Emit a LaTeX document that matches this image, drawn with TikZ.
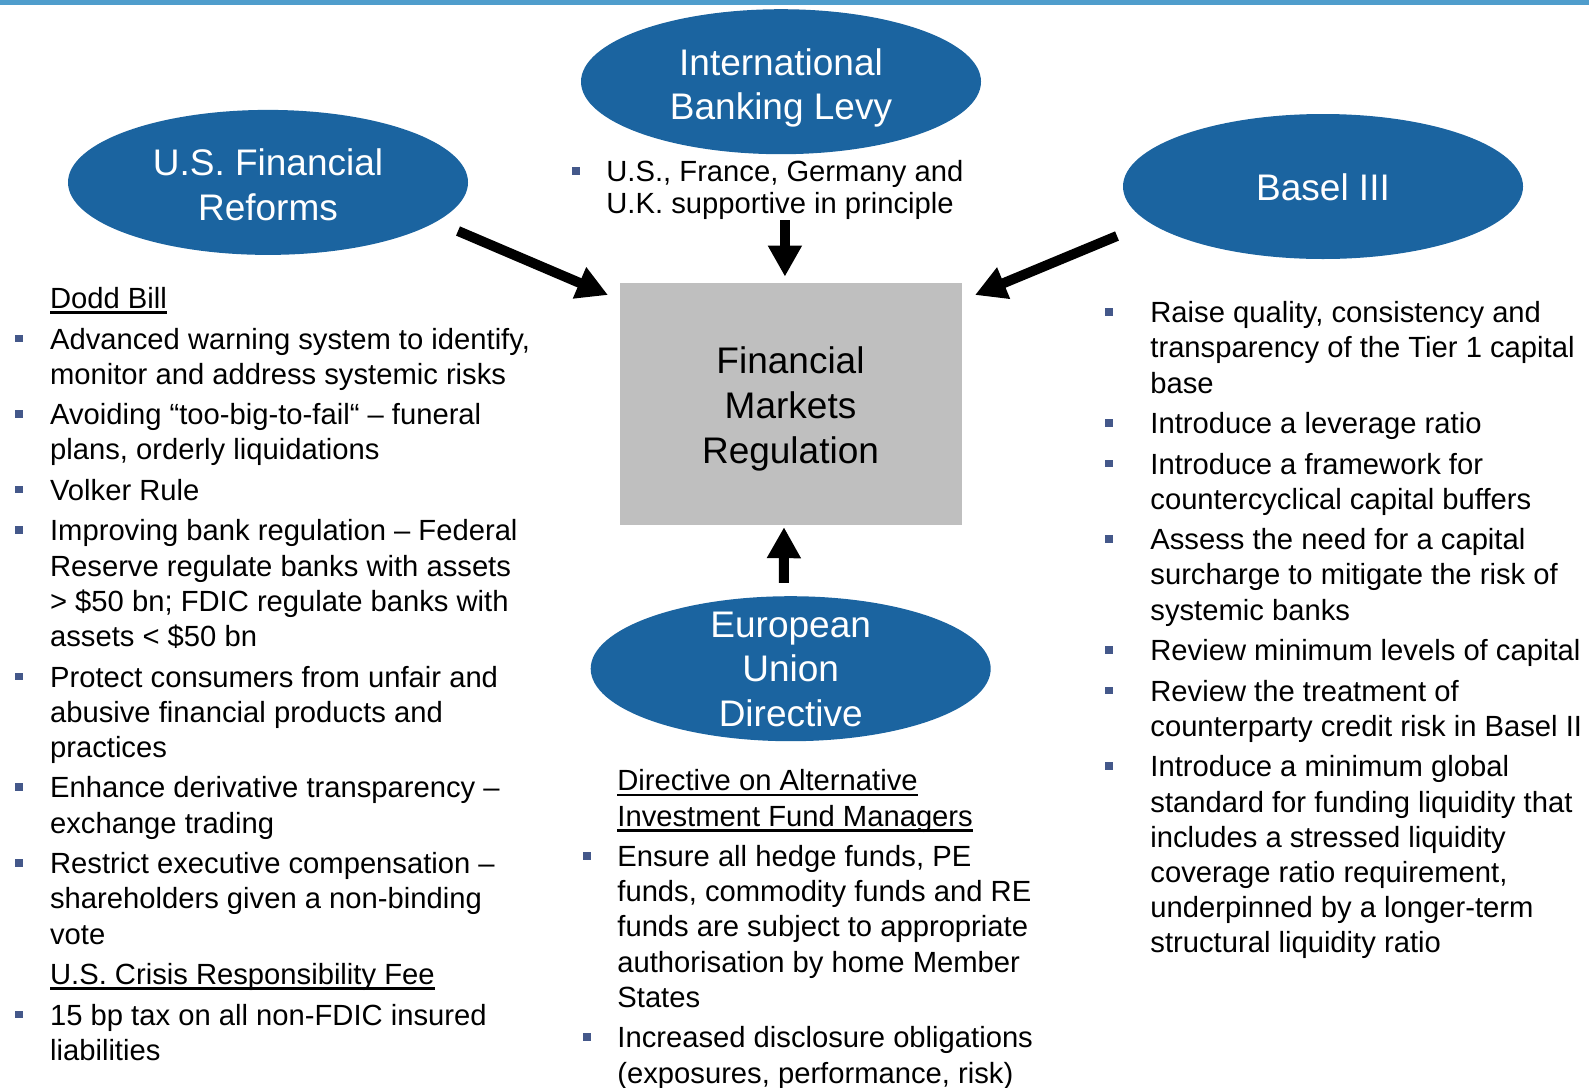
\documentclass[tikz,border=0pt]{standalone}
\usepackage{fontspec}
\setmainfont{Liberation Sans}
\usetikzlibrary{arrows.meta,shapes.geometric}
\definecolor{barc}{HTML}{4F9DCC}
\definecolor{blobc}{HTML}{1B64A0}
\definecolor{boxc}{HTML}{BFBFBF}
\definecolor{bulletc}{HTML}{44588A}
\newcommand{\undl}[1]{\setbox0\hbox{#1}\rlap{\rule[-2.8pt]{\wd0}{1.3pt}}\box0}
\newcommand{\bul}[2]{\fill[bulletc] (#1,#2-14) rectangle ++(7.5,7.5);}
\tikzset{
  blob/.style={ellipse, fill=blobc, inner sep=0pt, minimum width=200pt, minimum height=72.5pt},
  regbox/.style={rectangle, fill=boxc, inner sep=0pt, minimum width=171pt, minimum height=121pt},
  bigtxt/.style={anchor=north, yshift=15pt, inner sep=0pt, align=center, font=\fontsize{18.5}{22.3}\selectfont, execute at begin node=\rule{0pt}{15pt}},
  txt/.style={anchor=north west, yshift=12pt, inner sep=0pt, align=left, font=\fontsize{14.6}{17.6}\selectfont, execute at begin node=\rule{0pt}{12pt}},
  ml/.style={yshift=-1.5pt},
  bml/.style={yshift=-2pt},
  fat/.style={line width=5pt, -{Triangle[length=15.5pt,width=16pt]}},
}

\begin{document}
\begin{tikzpicture}[x=0.5pt,y=-0.5pt]
\useasboundingbox (0,0) rectangle (1589,1087);
\fill[barc] (0,0) rectangle (1589,5);

\node[blob] (ibl) at (781,81.7) {};
\node[blob] (usfr) at (268,182.4) {};
\node[blob] (basel) at (1323,186.5) {};
\node[blob] (eu) at (790.7,668.7) {};
\node[regbox] (box) at (791,404) {};
\node[bigtxt, bml, text=white] (iblt) at (781,74) {International\\Banking Levy};
\node[bigtxt, bml, text=white] (usfrt) at (268,174.4) {U.S. Financial\\Reforms};
\node[bigtxt, text=white] (baselt) at (1323,200) {Basel III};
\node[bigtxt, bml, text=white] (eut) at (790.7,637.5) {European\\Union\\Directive};
\node[bigtxt, bml] (boxt) at (790.5,372.7) {Financial\\Markets\\Regulation};

\bul{572}{181}
\node[txt, ml, font=\fontsize{14.6}{16}\selectfont] (ibl1) at (606,181) {U.S., France, Germany and\\U.K. supportive in principle};

\node[txt] (dodd) at (49.7,308) {\undl{Dodd Bill}};
\bul{15}{348.5}
\node[txt, ml] (us1) at (49.7,348.5) {Advanced warning system to identify,\\monitor and address systemic risks};
\bul{15}{424.2}
\node[txt, ml] (us2) at (49.7,424.2) {Avoiding “too-big-to-fail“ – funeral\\plans, orderly liquidations};
\bul{15}{499.9}
\node[txt] (us3) at (49.7,499.9) {Volker Rule};
\bul{15}{540.4}
\node[txt, ml] (us4) at (49.7,540.4) {Improving bank regulation – Federal\\Reserve regulate banks with assets\\> \$50 bn; FDIC regulate banks with\\assets < \$50 bn};
\bul{15}{686.5}
\node[txt, ml] (us5) at (49.7,686.5) {Protect consumers from unfair and\\abusive financial products and\\practices};
\bul{15}{797.4}
\node[txt, ml] (us6) at (49.7,797.4) {Enhance derivative transparency –\\exchange trading};
\bul{15}{873.1}
\node[txt, ml] (us7) at (49.7,873.1) {Restrict executive compensation –\\shareholders given a non-binding\\vote};
\node[txt] (fee) at (49.7,984) {\undl{U.S. Crisis Responsibility Fee}};
\bul{15}{1024.5}
\node[txt, ml] (fee1) at (49.7,1024.5) {15 bp tax on all non-FDIC insured\\liabilities};

\node[txt, ml] (aifmd) at (617,790.3) {\undl{Directive on Alternative}\\\undl{Investment Fund Managers}};
\bul{583}{866}
\node[txt, ml] (eu1) at (617,866) {Ensure all hedge funds, PE\\funds, commodity funds and RE\\funds are subject to appropriate\\authorisation by home Member\\States};
\bul{583}{1047.3}
\node[txt, ml] (eu2) at (617,1047.3) {Increased disclosure obligations\\(exposures, performance, risk)};

\bul{1105}{322.1}
\node[txt, ml] (b1) at (1150,322.1) {Raise quality, consistency and\\transparency of the Tier 1 capital\\base};
\bul{1105}{433}
\node[txt] (b2) at (1150,433) {Introduce a leverage ratio};
\bul{1105}{473.5}
\node[txt, ml] (b3) at (1150,473.5) {Introduce a framework for\\countercyclical capital buffers};
\bul{1105}{549.2}
\node[txt, ml] (b4) at (1150,549.2) {Assess the need for a capital\\surcharge to mitigate the risk of\\systemic banks};
\bul{1105}{660.1}
\node[txt] (b5) at (1150,660.1) {Review minimum levels of capital};
\bul{1105}{700.6}
\node[txt, ml] (b6) at (1150,700.6) {Review the treatment of\\counterparty credit risk in Basel II};
\bul{1105}{776.3}
\node[txt, ml] (b7) at (1150,776.3) {Introduce a minimum global\\standard for funding liquidity that\\includes a stressed liquidity\\coverage ratio requirement,\\underpinned by a longer-term\\structural liquidity ratio};

\coordinate (ustail) at (458,231);
\coordinate (ustip) at (608,295);
\coordinate (batail) at (1117,236);
\coordinate (batip) at (975,295);
\draw[fat] (ustail) -- (ustip);
\draw[fat] (batail) -- (batip);
\draw[fat, shorten <=0pt, shorten >=3pt] (ibl1.south) -- (ibl1.south |- box.north);
\draw[fat, shorten <=6.5pt, shorten >=0.9pt] ([xshift=-3.5pt]eu.north) -- ([xshift=-3.5pt]box.south);
\end{tikzpicture}
\end{document}
